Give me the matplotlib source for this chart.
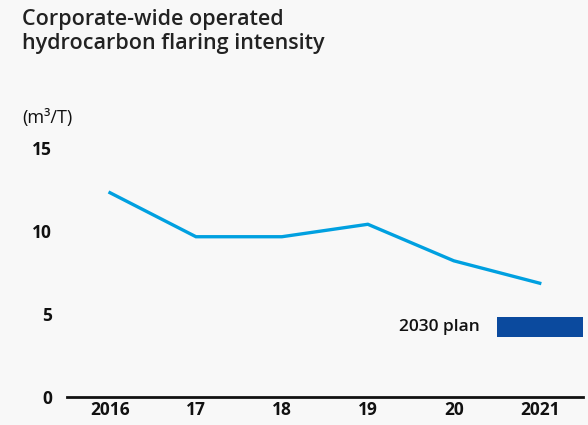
import matplotlib.pyplot as plt

years = ["2016", "17", "18", "19", "20", "2021"]
intensity = [12.3, 9.65, 9.65, 10.4, 8.2, 6.85]
plan_low, plan_high = 3.6, 4.8
plan_label = "2030 plan"

plt.rcParams['font.family'] = ['Open Sans', 'DejaVu Sans']

bg = '#f8f8f8'
fig = plt.figure(figsize=(5.88, 4.25), dpi=100, facecolor=bg)
ax = fig.add_axes([0.114, 0.066, 0.877, 0.586], facecolor=bg)

x = list(range(len(years)))
ax.plot(x, intensity, color='#00a0e0', linewidth=2.4, solid_joinstyle='miter', clip_on=False)

# 2030 plan band sits between 20 and 2021
ax.fill_between([x[-2] + 0.5, x[-1] + 0.5], plan_low, plan_high, color='#0b4a9e', linewidth=0)
ax.text(x[-2] + 0.3, (plan_low + plan_high) / 2, plan_label, ha='right', va='center',
        fontsize=12.5, fontweight='semibold', color='#111111')

ax.set_xlim(-0.5, 5.5)
ax.set_ylim(0, 15)
ax.set_xticks(x)
ax.set_xticklabels(years)
ax.set_yticks([0, 5, 10, 15])
ax.tick_params(axis='both', length=0, labelsize=12.5, colors='#111111')
ax.tick_params(axis='x', pad=3)
ax.tick_params(axis='y', pad=11)
for lab in ax.get_xticklabels() + ax.get_yticklabels():
    lab.set_fontweight('bold')

for side in ['top', 'right', 'left']:
    ax.spines[side].set_visible(False)
ax.spines['bottom'].set_linewidth(2)
ax.spines['bottom'].set_color('#111111')

fig.text(0.037, 0.978, "Corporate-wide operated\nhydrocarbon flaring intensity", ha='left', va='top',
         fontsize=15.5, fontweight='semibold', color='#222222', linespacing=1.15)
fig.text(0.037, 0.722, "(m³/T)", ha='left', va='center', fontsize=13, color='#111111')

fig.savefig('out.png', dpi=100, facecolor=bg)
